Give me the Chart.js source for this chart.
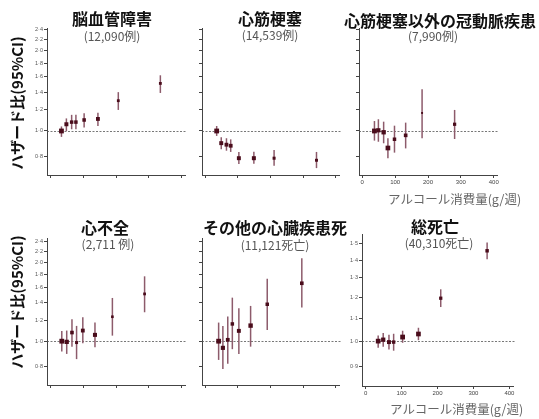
<!DOCTYPE html>
<html>
<head>
<meta charset="utf-8">
<script src="https://cdn.jsdelivr.net/npm/chart.js@4.4.0/dist/chart.umd.min.js"></script>
<style>
  body { margin:0; background:#fff; width:539px; height:419px; position:relative; overflow:hidden;
         font-family:"Noto Sans CJK JP", "Noto Sans", sans-serif; }
  canvas { position:absolute; }
  .t { position:absolute; transform:translate(-50%,-50%); white-space:nowrap; line-height:1; }
  .title { font-size:16px; font-weight:bold; color:#111; }
  .sub { font-size:12px; color:#555; }
  .xt { position:absolute; font-size:12.5px; color:#666; white-space:nowrap; line-height:1; transform:translateY(-50%); }
  .yt { font-size:15px; font-weight:bold; color:#111; transform:translate(-50%,-50%) rotate(-90deg); }
</style>
</head>
<body>
<script>
// alcohol consumption (g/week) and hazard ratios with 95% CI, per panel
const strokeX  = [34, 49, 65, 78, 103, 145, 207, 335];
const strokeHR = [1.00, 1.06, 1.08, 1.08, 1.10, 1.11, 1.30, 1.51];
const strokeLo = [0.95, 1.00, 1.015, 1.015, 1.03, 1.045, 1.20, 1.39];
const strokeHi = [1.04, 1.115, 1.15, 1.15, 1.165, 1.17, 1.40, 1.62];

const miX  = [35, 49, 65, 78, 103, 149, 211, 341];
const miHR = [1.00, 0.90, 0.888, 0.88, 0.79, 0.79, 0.79, 0.776];
const miLo = [0.958, 0.853, 0.843, 0.834, 0.751, 0.753, 0.74, 0.725];
const miHi = [1.044, 0.947, 0.939, 0.93, 0.834, 0.835, 0.848, 0.834];

const chdX  = [37, 49, 65, 78, 98, 132, 182, 281];
const chdHR = [1.00, 1.006, 0.989, 0.863, 0.931, 0.963, 1.169, 1.06];
const chdLo = [0.92, 0.911, 0.899, 0.789, 0.829, 0.86, 0.939, 0.933];
const chdHi = [1.09, 1.107, 1.084, 0.939, 1.047, 1.075, 1.435, 1.20];

const hfX  = [35, 50, 66, 80, 99, 136, 189, 287];
const hfHR = [1.00, 0.994, 1.079, 0.988, 1.098, 1.057, 1.24, 1.516];
const hfLo = [0.913, 0.894, 0.953, 0.854, 0.983, 0.949, 1.05, 1.29];
const hfHi = [1.095, 1.098, 1.213, 1.144, 1.235, 1.178, 1.463, 1.77];

const ohdX  = [41, 54, 69, 83, 103, 139, 190, 296];
const ohdHR = [1.00, 0.943, 1.012, 1.164, 1.095, 1.147, 1.384, 1.665];
const ohdLo = [0.848, 0.782, 0.819, 0.932, 0.894, 0.953, 1.104, 1.344];
const ohdHi = [1.178, 1.144, 1.242, 1.467, 1.337, 1.364, 1.734, 2.074];

const allX  = [35, 49, 65, 78, 103, 147, 209, 338];
const allHR = [1.00, 1.006, 0.996, 0.996, 1.017, 1.03, 1.195, 1.455];
const allLo = [0.973, 0.977, 0.966, 0.961, 0.993, 1.004, 1.152, 1.405];
const allHi = [1.024, 1.034, 1.027, 1.031, 1.044, 1.057, 1.24, 1.506];

const yTicksWide = [0.8, 1.0, 1.2, 1.4, 1.6, 1.8, 2.0, 2.2, 2.4];
const yTicksAll  = [0.9, 1.0, 1.1, 1.2, 1.3, 1.4, 1.5];
const xTicks     = [0, 100, 200, 300, 400];

const panels = [
  { title:'脳血管障害', sub:'(12,090例)', x:strokeX, hr:strokeHR, lo:strokeLo, hi:strokeHi,
    yTicks:yTicksWide, yMin:0.683, yMax:2.44, box:[47,185,28,175], yLab:true, xLab:false, tPos:[112,18,112,36] },
  { title:'心筋梗塞', sub:'(14,539例)', x:miX, hr:miHR, lo:miLo, hi:miHi,
    yTicks:yTicksWide, yMin:0.683, yMax:2.44, box:[202,339,28,175], yLab:false, xLab:false, tPos:[270,18,270,35] },
  { title:'心筋梗塞以外の冠動脈疾患', sub:'(7,990例)', x:chdX, hr:chdHR, lo:chdLo, hi:chdHi,
    yTicks:yTicksWide, yMin:0.683, yMax:2.44, box:[359,497,28,175], yLab:false, xLab:true, tPos:[440,20,433,36] },
  { title:'心不全', sub:'(2,711 例)', x:hfX, hr:hfHR, lo:hfLo, hi:hfHi,
    yTicks:yTicksWide, yMin:0.68, yMax:2.48, box:[47,185,238,385], yLab:true, xLab:false, tPos:[105,227,108,244] },
  { title:'その他の心臓疾患死', sub:'(11,121死亡)', x:ohdX, hr:ohdHR, lo:ohdLo, hi:ohdHi,
    yTicks:yTicksWide, yMin:0.68, yMax:2.48, box:[202,339,238,385], yLab:false, xLab:false, tPos:[275,227,275,245] },
  { title:'総死亡', sub:'(40,310死亡)', x:allX, hr:allHR, lo:allLo, hi:allHi,
    yTicks:yTicksAll, yMin:0.833, yMax:1.56, box:[362,513,234,386], yLab:true, xLab:true, tPos:[435,226,439,243] }
];

const YW = 30, XH = 22, PT = 8, PR = 12;

const errorBars = {
  id: 'errorBars',
  beforeDatasetsDraw(chart, args, opts) {
    const { ctx, chartArea: a, scales: { x, y } } = chart;
    ctx.save();
    // reference line at HR = 1
    const y1 = Math.round(y.getPixelForValue(1)) + 0.5;
    ctx.strokeStyle = '#555'; ctx.lineWidth = 0.8; ctx.setLineDash([2, 1.5]);
    ctx.beginPath(); ctx.moveTo(a.left, y1); ctx.lineTo(a.right + 2, y1); ctx.stroke();
    ctx.setLineDash([]);
    ctx.strokeStyle = '#8d5b6b'; ctx.lineWidth = 1.5;
    opts.x.forEach((v, i) => {
      const px = x.getPixelForValue(v);
      ctx.beginPath();
      ctx.moveTo(px, y.getPixelForValue(opts.lo[i]));
      ctx.lineTo(px, y.getPixelForValue(opts.hi[i]));
      ctx.stroke();
    });
    ctx.restore();
  }
};

panels.forEach(p => {
  const [l, r, t, b] = p.box;
  const c = document.createElement('canvas');
  const w = r - l + YW + PR, h = b - t + PT + XH;
  c.width = w; c.height = h;
  c.style.left = (l - YW) + 'px'; c.style.top = (t - PT) + 'px';
  c.style.width = w + 'px'; c.style.height = h + 'px';
  document.body.appendChild(c);

  // marker size inversely proportional to CI width (log scale)
  const widths = p.lo.map((v, i) => Math.log(p.hi[i] / v));
  const minW = Math.min(...widths);
  const radii = widths.map(wd => (4.8 * minW / wd) / Math.SQRT2);

  new Chart(c, {
    type: 'scatter',
    data: { datasets: [{ data: p.x.map((v, i) => ({ x: v, y: p.hr[i] })),
      pointStyle: 'rect', pointRadius: radii, backgroundColor: '#4a0c1b', borderWidth: 0 }] },
    options: {
      responsive: false, animation: false,
      layout: { padding: { top: PT, right: PR, left: 0, bottom: 0 } },
      plugins: { legend: { display: false }, tooltip: { enabled: false },
                 errorBars: { x: p.x, lo: p.lo, hi: p.hi } },
      scales: {
        x: { type: 'linear', min: -10, max: 410,
             afterBuildTicks: s => { s.ticks = xTicks.map(v => ({ value: v })); },
             afterFit: s => { s.height = XH; },
             grid: { drawOnChartArea: false, tickLength: 3, color: '#444' },
             border: { color: '#444', width: 1 },
             ticks: { display: p.xLab, font: { size: 6, family: 'Liberation Sans' }, color: '#444', padding: 1, maxRotation: 0 } },
        y: { type: 'logarithmic', min: p.yMin, max: p.yMax,
             afterBuildTicks: s => { s.ticks = p.yTicks.map(v => ({ value: v })); },
             afterFit: s => { s.width = YW; },
             grid: { drawOnChartArea: false, tickLength: 3, color: '#444' },
             border: { color: '#444', width: 1 },
             ticks: { display: p.yLab, font: { size: 5.5, family: 'Liberation Sans' }, color: '#555', padding: 1,
                      callback: v => Number(v).toFixed(1).replace('.', '·') } }
      }
    },
    plugins: [errorBars]
  });

  const [tx, ty, sx, sy] = p.tPos;
  const d1 = document.createElement('div');
  d1.className = 't title'; d1.textContent = p.title;
  d1.style.left = tx + 'px'; d1.style.top = ty + 'px';
  document.body.appendChild(d1);
  const d2 = document.createElement('div');
  d2.className = 't sub'; d2.textContent = p.sub;
  d2.style.left = sx + 'px'; d2.style.top = sy + 'px';
  document.body.appendChild(d2);
});

// axis titles
[[388, 199], [390, 409]].forEach(([x, y]) => {
  const d = document.createElement('div');
  d.className = 'xt'; d.textContent = 'アルコール消費量(g/週)';
  d.style.left = x + 'px'; d.style.top = y + 'px';
  document.body.appendChild(d);
});
[[16, 103], [16, 302]].forEach(([x, y]) => {
  const d = document.createElement('div');
  d.className = 't yt'; d.textContent = 'ハザード比(95%CI)';
  d.style.left = x + 'px'; d.style.top = y + 'px';
  document.body.appendChild(d);
});
</script>
</body>
</html>
